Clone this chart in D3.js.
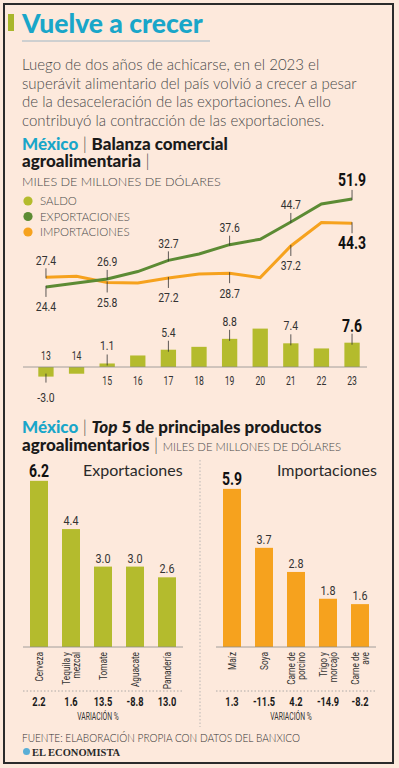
<!DOCTYPE html>
<html>
<head>
<meta charset="utf-8">
<script src="https://cdn.jsdelivr.net/npm/d3@7"></script>
<style>
  html, body { margin: 0; padding: 0; background: #fde9dc; }
  svg { display: block; }
</style>
</head>
<body>
<svg id="chart" width="399" height="768"></svg>
<script>
// ---- data ----
const years = ["13", "14", "15", "16", "17", "18", "19", "20", "21", "22", "23"];
const exportaciones = [24.4, 25.6, 26.9, 29.2, 32.7, 34.7, 37.6, 39.3, 44.7, 50.3, 51.9];
const importaciones = [27.4, 27.7, 25.8, 25.6, 27.2, 28.4, 28.7, 27.3, 37.2, 44.5, 44.3];
const saldo = [-3.0, -2.1, 1.1, 3.6, 5.4, 6.3, 8.8, 12.0, 7.4, 5.8, 7.6];
const labeledYears = ["13", "15", "17", "19", "21", "23"];

const expNames = ["Cerveza", "Tequila y\nmezcal", "Tomate", "Aguacate", "Panadería"];
const expValues = [6.2, 4.4, 3.0, 3.0, 2.6];
const expVariacion = [2.2, 1.6, 13.5, -8.8, 13.0];

const impNames = ["Maíz", "Soya", "Carne de\nporcino", "Trigo y\nmorcajo", "Carne de\nave"];
const impValues = [5.9, 3.7, 2.8, 1.8, 1.6];
const impVariacion = [1.3, -11.5, 4.2, -14.9, -8.2];

const parrafo = [
    "Luego de dos años de achicarse, en el 2023 el",
    "superávit alimentario del país volvió a crecer a pesar",
    "de la desaceleración de las exportaciones. A ello",
    "contribuyó la contracción de las exportaciones."
];

// ---- styles ----
const BODY = "Lato, 'Noto Sans', sans-serif";
const NUM = "Roboto, 'DejaVu Sans', sans-serif";
const BLUE = "#19a6c9";
const OLIVE = "#b4bb2d";
const GREEN = "#5c8b34";
const ORANGE = "#f6a21e";
const TEXT = "#4a4a4a";

const svg = d3.select("#chart");

// numbers are set in a narrow face: squeeze horizontally
function narrow(sel, fx, fy, sx) {
    return sel
        .attr("transform", (d, i) => `translate(${fx(d, i)},${fy(d, i)}) scale(${sx},1)`)
        .attr("font-family", NUM);
}

svg.append("rect")
    .attr("x", 4).attr("y", 4).attr("width", 389).attr("height", 759)
    .attr("fill", "#fde9dc").attr("stroke", "#2b2b2b").attr("stroke-width", 2);

// ---- title ----
svg.append("rect").attr("x", 8).attr("y", 14).attr("width", 6).attr("height", 17).attr("fill", "#a9b62a");
svg.append("text")
    .attr("x", 22).attr("y", 32.5)
    .attr("font-family", BODY).attr("font-weight", 900).attr("font-size", 26.5)
    .attr("fill", BLUE)
    .text("Vuelve a crecer");
svg.append("line")
    .attr("x1", 22).attr("x2", 210).attr("y1", 41).attr("y2", 41)
    .attr("stroke", "#9fb6c4").attr("stroke-width", 1);

svg.append("g")
    .selectAll("text")
    .data(parrafo)
    .join("text")
    .attr("x", 22)
    .attr("y", (d, i) => 70 + i * 18.6)
    .attr("font-family", BODY).attr("font-weight", 300).attr("font-size", 15)
    .attr("fill", TEXT)
    .text(d => d);

function header(y, parts) {
    const t = svg.append("text").attr("x", 22).attr("y", y).attr("font-family", BODY);
    parts.forEach(p => {
        t.append("tspan")
            .attr("font-weight", p.w || 900)
            .attr("font-size", p.s || 17)
            .attr("font-style", p.i ? "italic" : null)
            .attr("fill", p.c || "#1a1a1a")
            .text(p.t);
    });
}

header(149.5, [
    {t: "México", c: BLUE},
    {t: " | ", w: 300, c: TEXT},
    {t: "Balanza comercial"}
]);
header(167, [
    {t: "agroalimentaria"},
    {t: " |", w: 300, c: TEXT}
]);
svg.append("text")
    .attr("x", 22).attr("y", 186)
    .attr("font-family", BODY).attr("font-weight", 300).attr("font-size", 12.6)
    .attr("fill", TEXT)
    .text("MILES DE MILLONES DE DÓLARES");

// legend
const legend = [
    {name: "SALDO", color: OLIVE},
    {name: "EXPORTACIONES", color: GREEN},
    {name: "IMPORTACIONES", color: ORANGE}
];
const lg = svg.append("g").attr("transform", "translate(28,201)");
lg.selectAll("circle").data(legend).join("circle")
    .attr("cy", (d, i) => i * 15.5).attr("r", 4.6).attr("fill", d => d.color);
lg.selectAll("text").data(legend).join("text")
    .attr("x", 12).attr("y", (d, i) => i * 15.5 + 4.2)
    .attr("font-family", BODY).attr("font-weight", 300).attr("font-size", 11.4)
    .attr("fill", TEXT)
    .text(d => d.name);

// ---- balanza chart ----
const x = d3.scaleBand().domain(years).range([23, 375]).padding(0.5);
const cx = d => x(d) + x.bandwidth() / 2;
const yLine = d3.scaleLinear().domain([20, 55]).range([301, 189]);
const yBar = d3.scaleLinear().domain([-5, 15]).range([383, 319]);

const lineGen = d3.line().x((d, i) => cx(years[i])).y(d => yLine(d));

svg.append("path").datum(importaciones)
    .attr("d", lineGen).attr("fill", "none")
    .attr("stroke", ORANGE).attr("stroke-width", 3);
svg.append("path").datum(exportaciones)
    .attr("d", lineGen).attr("fill", "none")
    .attr("stroke", GREEN).attr("stroke-width", 3);

// line labels
const lineLabels = [];
labeledYears.forEach(yr => {
    const i = years.indexOf(yr);
    const e = exportaciones[i], m = importaciones[i];
    const last = i === years.length - 1;
    lineLabels.push({yr, v: Math.max(e, m), pos: "top", bold: last});
    lineLabels.push({yr, v: Math.min(e, m), pos: "bottom", bold: last});
});

const ll = svg.append("g");
ll.selectAll("line").data(lineLabels).join("line")
    .attr("x1", d => cx(d.yr)).attr("x2", d => cx(d.yr))
    .attr("y1", d => d.pos === "top" ? yLine(d.v) - 9 : yLine(d.v) + 10)
    .attr("y2", d => d.pos === "top" ? yLine(d.v) + 1 : yLine(d.v) - 1)
    .attr("stroke", "#333").attr("stroke-width", 0.8);
narrow(ll.selectAll("text").data(lineLabels).join("text"),
        d => cx(d.yr),
        d => d.pos === "top" ? yLine(d.v) - 12.5 : yLine(d.v) + (d.bold ? 26 : 24.5),
        0.8)
    .attr("text-anchor", "middle")
    .attr("font-weight", d => d.bold ? 700 : 400)
    .attr("font-size", d => d.bold ? 17.5 : 13)
    .attr("fill", d => d.bold ? "#111" : "#333")
    .text(d => d.v.toFixed(1));

// saldo bars
svg.append("g").selectAll("rect").data(saldo).join("rect")
    .attr("x", (d, i) => x(years[i]))
    .attr("width", x.bandwidth())
    .attr("y", d => yBar(Math.max(0, d)))
    .attr("height", d => Math.abs(yBar(d) - yBar(0)))
    .attr("fill", OLIVE);

svg.append("line")
    .attr("x1", 23).attr("x2", 367).attr("y1", yBar(0)).attr("y2", yBar(0))
    .attr("stroke", "#8a8a8a").attr("stroke-width", 0.8);

// year ticks
narrow(svg.append("g").selectAll("text").data(years).join("text"),
        d => cx(d),
        (d, i) => saldo[i] < 0 ? yBar(0) - 7 : yBar(0) + 18,
        0.72)
    .attr("text-anchor", "middle")
    .attr("font-size", 12).attr("fill", "#333")
    .text(d => d);

// saldo labels
const saldoLabels = labeledYears.map(yr => ({yr, v: saldo[years.indexOf(yr)], bold: yr === "23"}));
const sl = svg.append("g");
sl.selectAll("line").data(saldoLabels).join("line")
    .attr("x1", d => cx(d.yr)).attr("x2", d => cx(d.yr))
    .attr("y1", d => d.v < 0 ? yBar(d.v) - 3 : yBar(d.v) - 9)
    .attr("y2", d => d.v < 0 ? yBar(d.v) + 6 : yBar(d.v) + 2)
    .attr("stroke", "#333").attr("stroke-width", 0.8);
narrow(sl.selectAll("text").data(saldoLabels).join("text"),
        d => cx(d.yr),
        d => d.v < 0 ? yBar(d.v) + 25 : yBar(d.v) - (d.bold ? 11 : 13),
        0.8)
    .attr("text-anchor", "middle")
    .attr("font-weight", d => d.bold ? 700 : 400)
    .attr("font-size", d => d.bold ? 17.5 : 13)
    .attr("fill", d => d.bold ? "#111" : "#333")
    .text(d => d.v.toFixed(1));

// ---- top 5 ----
header(432.5, [
    {t: "México", c: BLUE},
    {t: " | ", w: 300, c: TEXT},
    {t: "Top", i: true},
    {t: " 5 de principales productos"}
]);
header(451, [
    {t: "agroalimentarios"},
    {t: " | ", w: 300, c: TEXT},
    {t: "MILES DE MILLONES DE DÓLARES", w: 300, s: 11.3, c: TEXT}
]);

const yTop = d3.scaleLinear().domain([0, 7]).range([647, 647 - 7 * 26.8]);

function panel(names, values, variacion, range, color, title, titleX) {
    const xb = d3.scaleBand().domain(names).range(range).paddingInner(0.4375).paddingOuter(0.21875);
    const bc = d => xb(d) + xb.bandwidth() / 2;
    const g = svg.append("g");

    g.append("text")
        .attr("x", titleX).attr("y", 476)
        .attr("font-family", BODY).attr("font-size", 16).attr("fill", "#2a2a2a")
        .text(title);

    g.selectAll("rect").data(values).join("rect")
        .attr("x", (d, i) => xb(names[i]))
        .attr("width", xb.bandwidth())
        .attr("y", d => yTop(d))
        .attr("height", d => yTop(0) - yTop(d))
        .attr("fill", color);

    narrow(g.append("g").selectAll("text").data(values).join("text"),
            (d, i) => bc(names[i]),
            (d, i) => yTop(d) - 4,
            0.8)
        .attr("text-anchor", "middle")
        .attr("font-weight", (d, i) => i === 0 ? 700 : 400)
        .attr("font-size", (d, i) => i === 0 ? 17.5 : 13.5)
        .attr("fill", (d, i) => i === 0 ? "#111" : "#333")
        .text(d => d.toFixed(1));

    g.append("line")
        .attr("x1", range[0]).attr("x2", range[1]).attr("y1", yTop(0)).attr("y2", yTop(0))
        .attr("stroke", "#8a8a8a").attr("stroke-width", 0.8);

    // rotated category names
    names.forEach(n => {
        const lines = n.split("\n");
        const t = g.append("text")
            .attr("transform", `translate(${bc(n)},652) rotate(-90) scale(0.72,1)`)
            .attr("text-anchor", "end")
            .attr("font-family", NUM).attr("font-size", 11.5).attr("fill", "#333");
        lines.forEach((l, k) => {
            t.append("tspan")
                .attr("x", 0)
                .attr("y", (k - (lines.length - 1) / 2) * 9.5 + 4)
                .text(l);
        });
    });

    g.append("line")
        .attr("x1", range[0]).attr("x2", range[1]).attr("y1", 691).attr("y2", 691)
        .attr("stroke", "#999").attr("stroke-width", 0.8).attr("stroke-dasharray", "1.5,2");

    narrow(g.append("g").selectAll("text").data(variacion).join("text"),
            (d, i) => bc(names[i]),
            () => 706,
            0.74)
        .attr("text-anchor", "middle")
        .attr("font-weight", 700).attr("font-size", 12.5)
        .attr("fill", "#1a1a1a")
        .text(d => d.toFixed(1));

    narrow(g.append("text").datum(0),
            () => (range[0] + range[1]) / 2 - 5,
            () => 720,
            0.68)
        .attr("text-anchor", "middle")
        .attr("font-size", 10).attr("fill", "#333")
        .text("VARIACIÓN %");
}

panel(expNames, expValues, expVariacion, [23, 183], OLIVE, "Exportaciones", 83);
panel(impNames, impValues, impVariacion, [216, 376], ORANGE, "Importaciones", 277);

svg.append("line")
    .attr("x1", 200).attr("x2", 200).attr("y1", 460).attr("y2", 727)
    .attr("stroke", "#aaa").attr("stroke-width", 0.8).attr("stroke-dasharray", "1.5,2");

// ---- footer ----
svg.append("text")
    .attr("x", 22).attr("y", 742)
    .attr("font-family", BODY).attr("font-weight", 300).attr("font-size", 11.5)
    .attr("textLength", 278).attr("lengthAdjust", "spacingAndGlyphs")
    .attr("fill", "#333")
    .text("FUENTE: ELABORACIÓN PROPIA CON DATOS DEL BANXICO");
svg.append("circle").attr("cx", 26.5).attr("cy", 751.5).attr("r", 3.5).attr("fill", "#5aaed6");
svg.append("text")
    .attr("x", 32).attr("y", 755.5)
    .attr("font-family", "'Liberation Serif', serif").attr("font-weight", 700).attr("font-size", 10.5)
    .attr("fill", "#2a2a2a")
    .text("EL ECONOMISTA");
</script>
</body>
</html>
